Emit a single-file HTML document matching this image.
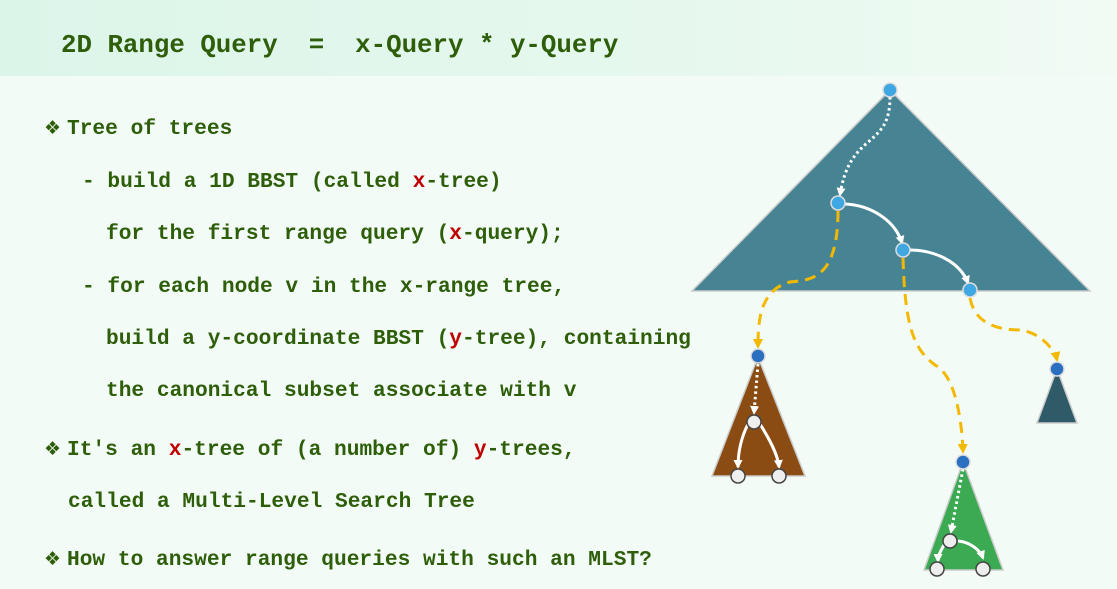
<!DOCTYPE html>
<html><head><meta charset="utf-8"><style>
body{margin:0;width:1117px;height:589px;overflow:hidden;background:#f2fbf5;position:relative;font-family:"Liberation Mono",monospace;}
.hdr{position:absolute;left:0;top:0;width:1117px;height:76px;background:linear-gradient(90deg,#dcf5e9,#e6f8ee 60%,#f0fbf4);}
.t{position:absolute;white-space:pre;font-weight:bold;color:#2e5e0a;line-height:1;}
.title{font-size:25.8px;left:61px;top:33px;}
.b{font-size:21.2px;}
.r{color:#c00000;}
.bu{display:inline-block;width:23px;font-family:"DejaVu Sans",sans-serif;font-size:19px;font-weight:normal;}
</style></head><body>
<div class="hdr"></div>
<div class="t title">2D Range Query  =  x-Query * y-Query</div>
<div class="t b" style="left:44px;top:119px"><span class="bu">❖</span>Tree of trees</div>
<div class="t b" style="left:82px;top:172px">- build a 1D BBST (called <span class="r">x</span>-tree)</div>
<div class="t b" style="left:106px;top:224px">for the first range query (<span class="r">x</span>-query);</div>
<div class="t b" style="left:82px;top:277px">- for each node v in the x-range tree,</div>
<div class="t b" style="left:106px;top:329px">build a y-coordinate BBST (<span class="r">y</span>-tree), containing</div>
<div class="t b" style="left:106px;top:381px">the canonical subset associate with v</div>
<div class="t b" style="left:44px;top:440px"><span class="bu">❖</span>It's an <span class="r">x</span>-tree of (a number of) <span class="r">y</span>-trees,</div>
<div class="t b" style="left:68px;top:492px">called a Multi-Level Search Tree</div>
<div class="t b" style="left:44px;top:550px"><span class="bu">❖</span>How to answer range queries with such an MLST?</div>
<svg width="1117" height="589" style="position:absolute;left:0;top:0">
<defs>
<marker id="aw" markerWidth="9" markerHeight="9" refX="7" refY="4.5" orient="auto" markerUnits="userSpaceOnUse"><path d="M0,0 L9,4.5 L0,9z" fill="#fff"/></marker>
<marker id="ay" markerWidth="10" markerHeight="10" refX="8" refY="5" orient="auto" markerUnits="userSpaceOnUse"><path d="M0,0 L10,5 L0,10z" fill="#f3b800"/></marker>
</defs>
<polygon points="890,90 1090,291 692,291" fill="#468494" stroke="#ccc" stroke-width="1.5"/>
<polygon points="758,357 805,476 712,476" fill="#8b4c14" stroke="#ccc" stroke-width="1.5"/>
<polygon points="1057,369 1077,423 1037,423" fill="#2f5a68" stroke="#ccc" stroke-width="1.5"/>
<polygon points="963,462 1003,570 924,570" fill="#3caa52" stroke="#ccc" stroke-width="1.5"/>
<g fill="none" stroke="#fff" stroke-width="3">
<path d="M890,97 C890,150 850,130 840,195" stroke-dasharray="2.5 3" marker-end="url(#aw)"/>
<path d="M845,204 C870,205 895,220 902,243" marker-end="url(#aw)"/>
<path d="M910,250 C935,250 960,262 968,283" marker-end="url(#aw)"/>
<path d="M758,364 L754,413" stroke-dasharray="2.5 3" marker-end="url(#aw)"/>
<path d="M748,424 C740,440 738,455 738,467" marker-end="url(#aw)"/>
<path d="M760,424 C770,440 778,455 779,467" marker-end="url(#aw)"/>
<path d="M963,469 L951,532" stroke-dasharray="2.5 3" marker-end="url(#aw)"/>
<path d="M944,545 C940,552 938,556 938,561" marker-end="url(#aw)"/>
<path d="M958,541 C970,542 980,550 983,558" marker-end="url(#aw)"/>
</g>
<g fill="none" stroke="#f3b800" stroke-width="3" stroke-dasharray="11 7">
<path d="M838,211 C838,280 810,280 790,282 C760,290 758,320 758,347" marker-end="url(#ay)"/>
<path d="M903,258 C905,330 915,350 935,365 C955,375 962,420 963,452" marker-end="url(#ay)"/>
<path d="M970,298 C975,325 1000,330 1020,330 C1040,332 1055,350 1057,360" marker-end="url(#ay)"/>
</g>
<g stroke="#ddd" stroke-width="1.5">
<circle cx="890" cy="90" r="7" fill="#3fa8e2"/>
<circle cx="838" cy="203" r="7" fill="#3fa8e2"/>
<circle cx="903" cy="250" r="7" fill="#3fa8e2"/>
<circle cx="970" cy="290" r="7" fill="#3fa8e2"/>
<circle cx="758" cy="356" r="7" fill="#2a6fc0"/>
<circle cx="1057" cy="369" r="7" fill="#2a6fc0"/>
<circle cx="963" cy="462" r="7" fill="#2a6fc0"/>
</g>
<g stroke="#444" stroke-width="1.5" fill="#eee">
<circle cx="754" cy="422" r="7"/><circle cx="738" cy="476" r="7"/><circle cx="779" cy="476" r="7"/>
<circle cx="950" cy="541" r="7"/><circle cx="937" cy="569" r="7"/><circle cx="983" cy="569" r="7"/>
</g>
</svg>
</body></html>
